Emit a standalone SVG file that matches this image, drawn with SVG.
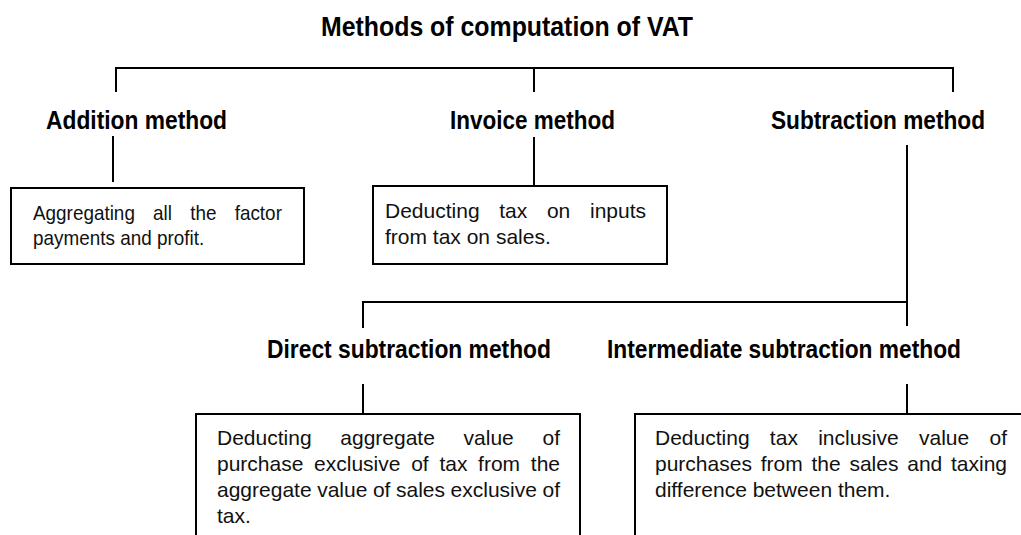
<svg xmlns="http://www.w3.org/2000/svg" width="1021" height="535" viewBox="0 0 1021 535">
<style>
.title{font-family:"Liberation Sans",Arial,sans-serif;font-weight:bold;font-size:28px;fill:#000}
.lbl{font-family:"Liberation Sans",Arial,sans-serif;font-weight:bold;font-size:25px;fill:#000}
.body{font-family:"Liberation Sans",Arial,sans-serif;font-size:21px;fill:#111}
.box{fill:#fff;stroke:#000;stroke-width:2}
.ln{fill:none;stroke:#000;stroke-width:2}
</style>
<rect width="1021" height="535" fill="#fff"/>
<g id="title">
<text class="title" x="321" y="36" textLength="372" lengthAdjust="spacingAndGlyphs">Methods of computation of VAT</text>
</g>
<g id="connectors">
<path class="ln" d="M116,92 V68 H953 V92"/>
<path class="ln" d="M534,68 V92"/>
<path class="ln" d="M113,136 V182"/>
<path class="ln" d="M534,137 V186"/>
<path class="ln" d="M907,145 V326"/>
<path class="ln" d="M363,328 V302 H907"/>
<path class="ln" d="M363,384 V414"/>
<path class="ln" d="M907,384 V414"/>
</g>
<g id="addition">
<text class="lbl" x="46" y="129" textLength="181" lengthAdjust="spacingAndGlyphs">Addition method</text>
</g>
<g id="invoice">
<text class="lbl" x="450" y="129" textLength="165" lengthAdjust="spacingAndGlyphs">Invoice method</text>
</g>
<g id="subtraction">
<text class="lbl" x="771" y="129" textLength="214" lengthAdjust="spacingAndGlyphs">Subtraction method</text>
</g>
<g id="addition-desc">
<rect class="box" x="11" y="188" width="293" height="76"/>
<g transform="translate(33 0) scale(0.9 1)">
<text class="body" x="0" y="220" word-spacing="14.4">Aggregating all the factor</text>
<text class="body" x="0" y="245">payments and profit.</text>
</g>
</g>
<g id="invoice-desc">
<rect class="box" x="373" y="186" width="294" height="78"/>
<text class="body" x="385" y="218" word-spacing="13.85">Deducting tax on inputs</text>
<text class="body" x="385" y="244">from tax on sales.</text>
</g>
<g id="direct">
<text class="lbl" x="267" y="358" textLength="284" lengthAdjust="spacingAndGlyphs">Direct subtraction method</text>
</g>
<g id="intermediate">
<text class="lbl" x="607" y="358" textLength="354" lengthAdjust="spacingAndGlyphs">Intermediate subtraction method</text>
</g>
<g id="direct-desc">
<rect class="box" x="196" y="414" width="384" height="140"/>
<text class="body" x="217" y="445" word-spacing="22.89">Deducting aggregate value of</text>
<text class="body" x="217" y="471" word-spacing="4.87">purchase exclusive of tax from the</text>
<text class="body" x="217" y="497" word-spacing="-0.27">aggregate value of sales exclusive of</text>
<text class="body" x="217" y="523">tax.</text>
</g>
<g id="intermediate-desc">
<rect class="box" x="635" y="414" width="400" height="140"/>
<text class="body" x="655" y="445" word-spacing="14.47">Deducting tax inclusive value of</text>
<text class="body" x="655" y="471" word-spacing="2.94">purchases from the sales and taxing</text>
<text class="body" x="655" y="497">difference between them.</text>
</g>
</svg>
